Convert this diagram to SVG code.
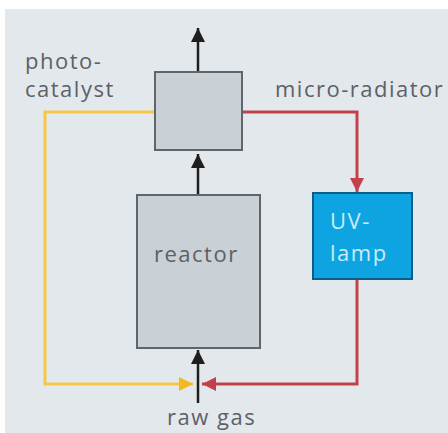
<svg xmlns="http://www.w3.org/2000/svg" width="448" height="433" viewBox="0 0 448 433">
<defs>
<style>
.t{font-family:"Open Sans","DejaVu Sans",sans-serif;font-size:22px;letter-spacing:1.5px;fill:#5c6167}
.box{fill:#c9d0d6;stroke:#5e656b;stroke-width:2}
.blk{stroke:#1e1e1e;stroke-width:2.5;fill:none}
.yel{stroke:#f6c746;stroke-width:3;fill:none}
.red{stroke:#c3414b;stroke-width:3;fill:none}
</style>
<marker id="ab" viewBox="0 0 10 10" refX="10" refY="5" markerWidth="18" markerHeight="14" markerUnits="userSpaceOnUse" orient="auto"><path d="M0,0 L10,5 L0,10 Z" fill="#1e1e1e"/></marker>
<marker id="ay" viewBox="0 0 10 10" refX="10" refY="5" markerWidth="18" markerHeight="14" markerUnits="userSpaceOnUse" orient="auto"><path d="M0,0 L10,5 L0,10 Z" fill="#f6b820"/></marker>
<marker id="ar" viewBox="0 0 10 10" refX="10" refY="5" markerWidth="18" markerHeight="14" markerUnits="userSpaceOnUse" orient="auto"><path d="M0,0 L10,5 L0,10 Z" fill="#c3414b"/></marker>
</defs>
<rect x="0" y="0" width="448" height="433" fill="#ffffff"/>
<rect x="5" y="9" width="443" height="424" fill="#e3e8ec"/>
<g id="connectors">
<path class="blk" d="M198,72 V28" marker-end="url(#ab)"/>
<path class="blk" d="M198,195 V154" marker-end="url(#ab)"/>
<path class="blk" d="M198,403 V350" marker-end="url(#ab)"/>
<path class="yel" d="M155,112 H45 V384 H193" marker-end="url(#ay)"/>
<path class="red" d="M242,112 H357 V192" marker-end="url(#ar)"/>
<path class="red" d="M357,279 V384 H202" marker-end="url(#ar)"/>
</g>
<g id="top-box"><rect class="box" x="155" y="72" width="87" height="78"/></g>
<g id="reactor"><rect class="box" x="137" y="195" width="123" height="153"/><text class="t" x="154" y="262">reactor</text></g>
<g id="uv-lamp"><rect x="313" y="193" width="99" height="86" fill="#0ea4e1" stroke="#0b5e8a" stroke-width="2"/><text class="t" x="330" y="229" style="fill:#c9ecfa">UV-</text><text class="t" x="330" y="261" style="fill:#c9ecfa">lamp</text></g>
<g id="photo-catalyst"><text class="t" x="25" y="69">photo-</text><text class="t" x="25" y="97">catalyst</text></g>
<g id="micro-radiator"><text class="t" x="275" y="97">micro-radiator</text></g>
<g id="raw-gas"><text class="t" x="167" y="425">raw gas</text></g>
</svg>
